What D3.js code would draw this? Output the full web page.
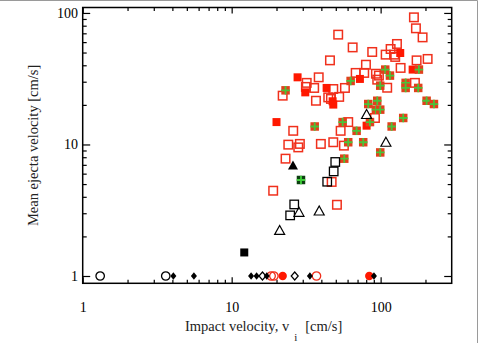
<!DOCTYPE html>
<html>
<head>
<meta charset="utf-8">
<script src="https://cdn.jsdelivr.net/npm/d3@7"></script>
<style>
  body { margin: 0; background: #fff; }
  svg { display: block; font-family: "Liberation Serif", "DejaVu Serif", serif; }
</style>
</head>
<body>
<div id="app"></div>
<script>
"use strict";

// Axis ranges and tick values, both axes in cm/s
const xDomain = [1, 300];
const yDomain = [0.88, 110];
const xMajorTicks = [1, 10, 100];
const xMinorTicks = [2, 3, 4, 5, 6, 7, 8, 9, 20, 30, 40, 50, 60, 70, 80, 90, 200];
const yMajorTicks = [1, 10, 100];
const yMinorTicks = [2, 3, 4, 5, 6, 7, 8, 9, 20, 30, 40, 50, 60, 70, 80, 90];

const xTitle = "Impact velocity, v";
const xTitleSub = "i";
const xTitleUnit = "[cm/s]";
const yTitle = "Mean ejecta velocity [cm/s]";

// [impact velocity, mean ejecta velocity]
const redOpenSquares = [
    [167.3, 92.6], [172.6, 76.4], [191.3, 65.2], [51.9, 68.4], [64.9, 54.7],
    [128.7, 58.1], [116.7, 53.2], [123.4, 48.2], [125.3, 46.3], [108.1, 48.2],
    [87.8, 50.5], [45.7, 43.6], [174.4, 43.6], [206.8, 44.7], [79.7, 40.4],
    [136.2, 38.2], [68, 35.0], [77.6, 35.0], [93, 34.5], [97.4, 33.4],
    [94.9, 31.1], [38.4, 32.4], [31.9, 29.4], [31.5, 27.4], [35.8, 26.9],
    [48.1, 26.4], [57.6, 26.9], [110.7, 27.0], [169.9, 29.4], [22.0, 23.5],
    [36.8, 21.5], [44.5, 22.8], [46.4, 22.2], [52.7, 23.0], [91.6, 15.9],
    [60.6, 14.8], [25.9, 12.7], [53.9, 12.7], [24.0, 9.97], [28.7, 10.1],
    [28.0, 9.5], [39.7, 10.1], [48.1, 10.4], [56.7, 9.8], [23.0, 7.8],
    [46.9, 5.19], [19.0, 4.45], [50.9, 3.48]
];
const redFilledSquares = [
    [135.4, 49.6], [164, 37.1], [27.7, 32.4], [72.6, 31.5], [31.2, 24.9],
    [43.4, 26.9], [47.6, 21.3], [48.1, 20.1], [20.0, 14.8], [80.5, 13.9]
];
const crossSquares = [
    [107.4, 37.1], [180.7, 37.1], [115.5, 33.4], [62.9, 30.4], [99.4, 28.0],
    [147.2, 29.4], [147.2, 26.9], [178.8, 26.9], [23.0, 25.8], [82.6, 20.3],
    [94.9, 21.5], [93, 18.4], [99.4, 18.4], [203.6, 21.5], [228, 20.3],
    [36.1, 13.7], [55.6, 14.8], [84.8, 14.8], [118.6, 13.7], [141.8, 15.9],
    [69, 12.7], [60.6, 10.4], [76.4, 10.4], [57, 7.8], [99.4, 8.7]
];
const darkCrossSquares = [[29.2, 5.37]];
const blackOpenSquares = [[49.6, 7.36], [48.4, 6.24], [43.8, 5.21], [26.3, 3.50], [24.7, 2.89]];
const blackFilledSquares = [[12.15, 1.51]];
const blackOpenTriangles = [[80.5, 16.9], [108.5, 10.4], [28.3, 3.05], [38.7, 3.12], [21.0, 2.22]];
const blackFilledTriangles = [[25.8, 6.93]];

// runs with no measurable ejecta sit on the 1 cm/s line
const blackOpenCircles = [[1.31, 1], [3.61, 1]];
const blackFilledDiamonds = [[4.06, 1], [5.58, 1], [13.5, 1], [14.7, 1], [17.2, 1], [33.5, 1], [90.2, 1]];
const blackOpenDiamonds = [[16.1, 1], [26.5, 1]];
const redOpenCircles = [[18.4, 1], [19.2, 1], [37.1, 1]];
const redFilledCircles = [[22.0, 1], [83.9, 1]];

const width = 482;
const height = 343;
const plot = { left: 82.7, right: 451.7, top: 7.5, bottom: 283.3 };
const red = "#f0301c";

const svg = d3.select('#app').append('svg')
    .attr('width', width)
    .attr('height', height);

const x = d3.scaleLog().domain(xDomain).range([plot.left, plot.right]);
const y = d3.scaleLog().domain(yDomain).range([plot.bottom, plot.top]);

/**
 * Appends one axis and restyles it like the IDL original
 *
 * @param {Function} axis d3 axis generator
 * @param {String} transform
 */
const addAxis = (axis, transform) => {
    const g = svg.append('g')
        .attr('transform', transform)
        .call(axis)
        .attr('font-family', null)
        .attr('font-size', 14);
    g.select('.domain').remove();
    g.selectAll('line').attr('stroke', '#000').attr('stroke-width', 1.2);
    g.selectAll('text').attr('fill', '#000');
    return g;
}

// outer figure border (gray)
svg.append('path')
    .attr('d', `M0,0.5H477.5V${height}`)
    .attr('fill', 'none')
    .attr('stroke', '#9a9a9a')
    .attr('stroke-width', 1);

// Ticks on all four sides, pointing in
addAxis(d3.axisBottom(x).tickValues(xMajorTicks).tickSize(-6).tickSizeOuter(0)
    .tickPadding(18.3).tickFormat(d3.format('d')), `translate(0,${plot.bottom})`);
addAxis(d3.axisBottom(x).tickValues(xMinorTicks).tickSize(-3.5).tickSizeOuter(0)
    .tickFormat(''), `translate(0,${plot.bottom})`);
addAxis(d3.axisTop(x).tickValues(xMajorTicks).tickSize(-6).tickSizeOuter(0)
    .tickFormat(''), `translate(0,${plot.top})`);
addAxis(d3.axisTop(x).tickValues(xMinorTicks).tickSize(-3.5).tickSizeOuter(0)
    .tickFormat(''), `translate(0,${plot.top})`);
addAxis(d3.axisLeft(y).tickValues(yMajorTicks).tickSize(-7.5).tickSizeOuter(0)
    .tickPadding(4.7).tickFormat(d3.format('d')), `translate(${plot.left},0)`);
addAxis(d3.axisLeft(y).tickValues(yMinorTicks).tickSize(-4).tickSizeOuter(0)
    .tickFormat(''), `translate(${plot.left},0)`);
addAxis(d3.axisRight(y).tickValues(yMajorTicks).tickSize(-7.5).tickSizeOuter(0)
    .tickFormat(''), `translate(${plot.right},0)`);
addAxis(d3.axisRight(y).tickValues(yMinorTicks).tickSize(-4).tickSizeOuter(0)
    .tickFormat(''), `translate(${plot.right},0)`);

svg.append('rect')
    .attr('x', plot.left)
    .attr('y', plot.top)
    .attr('width', plot.right - plot.left)
    .attr('height', plot.bottom - plot.top)
    .attr('fill', 'none')
    .attr('stroke', '#000')
    .attr('stroke-width', 1.5);

// Axis titles
const xLabel = svg.append('text')
    .attr('x', 185)
    .attr('y', 331)
    .attr('font-size', 14.5)
    .attr('fill', '#222')
    .text(xTitle);
xLabel.append('tspan').attr('dx', 5).attr('dy', 10).attr('font-size', 11).text(xTitleSub);
xLabel.append('tspan').attr('dx', 8).attr('dy', -10).text(xTitleUnit);

svg.append('text')
    .attr('transform', `translate(33,${(plot.top + plot.bottom) / 2}) rotate(-90)`)
    .attr('text-anchor', 'middle')
    .attr('dy', '0.35em')
    .attr('font-size', 14.5)
    .attr('fill', '#222')
    .text(yTitle);

/**
 * Draws a group of square markers
 */
const drawSquares = (data, side, fill, stroke, strokeWidth) => {
    svg.append('g').selectAll('rect')
        .data(data)
        .join('rect')
        .attr('x', d => x(d[0]) - side / 2)
        .attr('y', d => y(d[1]) - side / 2)
        .attr('width', side)
        .attr('height', side)
        .attr('fill', fill)
        .attr('stroke', stroke)
        .attr('stroke-width', strokeWidth);
}

/**
 * Draws filled squares with a plus through them
 */
const drawCrossSquares = (data, fill, cross) => {
    const side = 8.5;
    const g = svg.append('g').selectAll('g')
        .data(data)
        .join('g')
        .attr('transform', d => `translate(${x(d[0])},${y(d[1])})`);
    g.append('rect')
        .attr('x', -side / 2)
        .attr('y', -side / 2)
        .attr('width', side)
        .attr('height', side)
        .attr('fill', fill);
    g.append('path')
        .attr('d', 'M-4.25,0H4.25M0,-4.25V4.25')
        .attr('stroke', cross)
        .attr('stroke-width', 1.8);
}

/**
 * Draws markers from a path shape centred on each point
 */
const drawShapes = (data, shape, fill, stroke, strokeWidth) => {
    svg.append('g').selectAll('path')
        .data(data)
        .join('path')
        .attr('transform', d => `translate(${x(d[0])},${y(d[1])})`)
        .attr('d', shape)
        .attr('fill', fill)
        .attr('stroke', stroke)
        .attr('stroke-width', strokeWidth);
}

const triangle = 'M0,-5L5,4L-5,4Z';
const diamond = 'M0,-4L3.5,0L0,4L-3.5,0Z';
const smallDiamond = 'M0,-3.8L3,0L0,3.8L-3,0Z';
const circle = d3.symbol(d3.symbolCircle, 56)();

drawSquares(redOpenSquares, 8.5, 'none', red, 1.5);
drawSquares(redFilledSquares, 8, '#ff1800', 'none', 0);
drawCrossSquares(crossSquares, '#e2401c', '#49c43a');
drawCrossSquares(darkCrossSquares, '#0c3f10', '#3fcf3a');
drawSquares(blackOpenSquares, 8.5, 'none', '#000', 1.3);
drawSquares(blackFilledSquares, 8, '#000', 'none', 0);
drawShapes(blackOpenTriangles, triangle, 'none', '#000', 1.2);
drawShapes(blackFilledTriangles, triangle, '#000', 'none', 0);

drawShapes(blackOpenCircles, circle, 'none', '#000', 1.3);
drawShapes(redOpenCircles, circle, 'none', red, 1.3);
drawShapes(redFilledCircles, circle, '#ff1800', 'none', 0);
drawShapes(blackOpenDiamonds, diamond, 'none', '#000', 1.2);
drawShapes(blackFilledDiamonds, smallDiamond, '#000', 'none', 0);
</script>
</body>
</html>
